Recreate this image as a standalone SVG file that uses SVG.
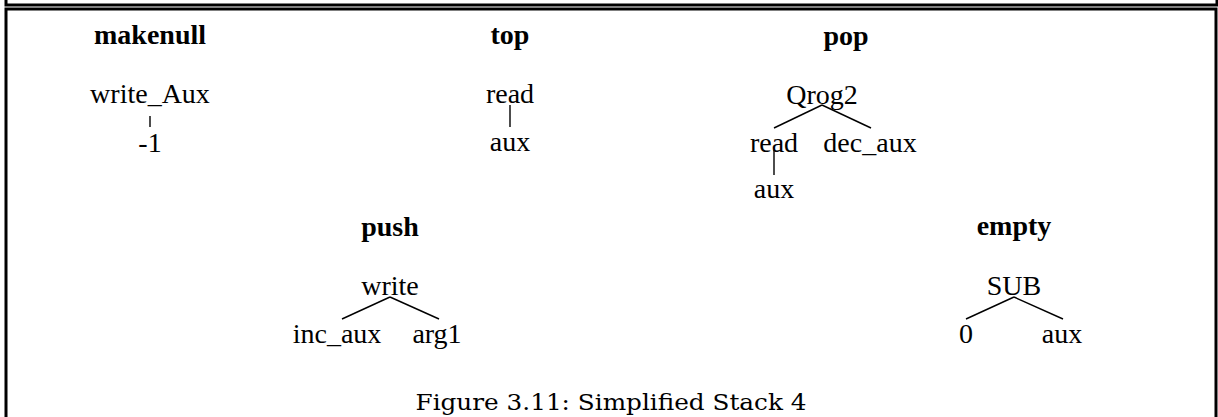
<svg xmlns="http://www.w3.org/2000/svg" width="1218" height="417" viewBox="0 0 1218 417">
<style>
.t{font-family:"Liberation Serif","Times New Roman",serif;font-size:28px;fill:#000;text-anchor:middle}
.b{font-weight:bold}
.c{font-family:"DejaVu Serif","Liberation Serif",serif;font-size:22px;fill:#000;text-anchor:middle}
.e{stroke:#000;stroke-width:1.4;fill:none}
.f{stroke:#000;stroke-width:3;fill:none}
</style>
<rect width="1218" height="417" fill="#fff"/>
<g id="frame">
<path class="f" d="M6,0 V5 H1217 V0"/>
<path class="f" d="M6,430 V9 H1216 V430"/>
</g>
<g id="connectors">
<line class="e" x1="150" y1="116" x2="150" y2="127"/>
<line class="e" x1="510" y1="105" x2="510" y2="127"/>
<line class="e" x1="822" y1="105" x2="774" y2="128"/>
<line class="e" x1="822" y1="105" x2="871" y2="128"/>
<line class="e" x1="774" y1="150" x2="774" y2="175"/>
<line class="e" x1="390" y1="297" x2="342" y2="319"/>
<line class="e" x1="390" y1="297" x2="439" y2="319"/>
<line class="e" x1="1014" y1="297" x2="966" y2="319"/>
<line class="e" x1="1014" y1="297" x2="1063" y2="319"/>
</g>
<g id="makenull">
<text class="t b" x="150" y="44">makenull</text>
<text class="t" x="150" y="103">write_Aux</text>
<text class="t" x="150" y="152">-1</text>
</g>
<g id="top">
<text class="t b" x="510" y="44">top</text>
<text class="t" x="510" y="103">read</text>
<text class="t" x="510" y="151">aux</text>
</g>
<g id="pop">
<text class="t b" x="846" y="45">pop</text>
<text class="t" x="822" y="104">Qrog2</text>
<text class="t" x="774" y="152">read</text>
<text class="t" x="870" y="152">dec_aux</text>
<text class="t" x="774" y="198">aux</text>
</g>
<g id="push">
<text class="t b" x="390" y="236">push</text>
<text class="t" x="390" y="295">write</text>
<text class="t" x="337" y="343">inc_aux</text>
<text class="t" x="437" y="343">arg1</text>
</g>
<g id="empty">
<text class="t b" x="1014" y="235">empty</text>
<text class="t" x="1014" y="295">SUB</text>
<text class="t" x="966" y="343">0</text>
<text class="t" x="1062" y="343">aux</text>
</g>
<g id="caption">
<text class="c" x="611" y="410" textLength="391" lengthAdjust="spacingAndGlyphs">Figure 3.11: Simplified Stack 4</text>
</g>
</svg>
